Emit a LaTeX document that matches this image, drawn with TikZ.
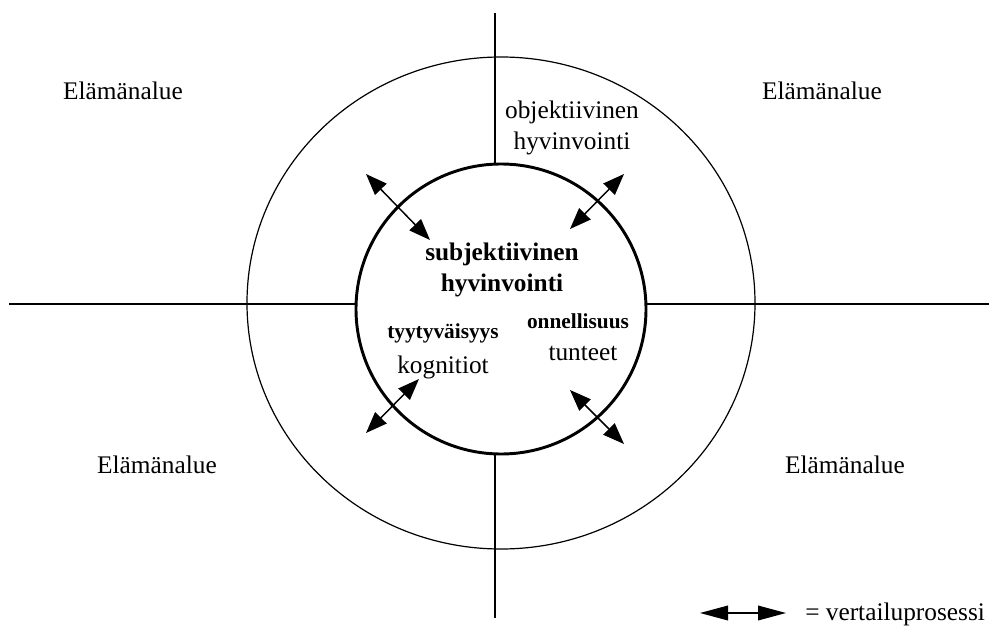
\documentclass[tikz,border=0pt]{standalone}
\usepackage{fontspec}
\setmainfont{Liberation Serif}
\usetikzlibrary{arrows.meta}

\begin{document}
\begin{tikzpicture}[x=0.75pt,y=0.75pt,yscale=-1,xscale=1,
  txt/.style={font=\fontsize{19}{23}\selectfont, align=center, inner sep=0pt},
  btxt/.style={font=\fontsize{19}{23}\selectfont\bfseries, align=center, inner sep=0pt},
  sbtxt/.style={font=\fontsize{16}{19}\selectfont\bfseries, align=center, inner sep=0pt},
  cmp/.style={{Triangle[length=16pt,width=12pt]}-{Triangle[length=16pt,width=12pt]}, line width=1.1pt},
  legcmp/.style={{Triangle[length=21pt,width=11pt]}-{Triangle[length=21pt,width=11pt]}, line width=1.1pt}]
\useasboundingbox (0,0) rectangle (989,631);

%Straight Lines (axes)
\draw [line width=0.9pt]  (495,13) -- (495,618) ;
\draw [line width=0.9pt]  (9,304) -- (989,304) ;
%Shape: Ellipse (outer)
\draw [line width=0.9pt, fill=none]  (501,303) ellipse [x radius=254, y radius=246] ;
%Shape: Circle (inner)
\draw [line width=2.2pt, fill=white]  (501,309) circle [radius=145] ;

%Arrow ends
\coordinate (nwA) at (366,174) ;
\coordinate (nwB) at (430,240) ;
\coordinate (neA) at (624,174) ;
\coordinate (neB) at (570,229) ;
\coordinate (swA) at (419,379) ;
\coordinate (swB) at (366,433) ;
\coordinate (seA) at (570,390) ;
\coordinate (seB) at (624,444) ;
\coordinate (legA) at (700,613) ;
\coordinate (legB) at (786,613) ;

%Arrows
\draw [cmp]  (nwA) -- (nwB) ;
\draw [cmp]  (neA) -- (neB) ;
\draw [cmp]  (swA) -- (swB) ;
\draw [cmp]  (seA) -- (seB) ;
\draw [legcmp]  (legA) -- (legB) ;

% Text Node
\node [txt] (elTL) at (123,91) {Elämänalue};
% Text Node
\node [txt] (elTR) at (822,91) {Elämänalue};
% Text Node
\node [txt] (elBL) at (157,465) {Elämänalue};
% Text Node
\node [txt] (elBR) at (845,465) {Elämänalue};
% Text Node
\node [txt] (objhv) at (572,128) {objektiivinen\\hyvinvointi};
% Text Node
\node [btxt] (subjhv) at (502,270) {subjektiivinen\\hyvinvointi};
% Text Node
\node [sbtxt] (tyyt) at (443,333) {tyytyväisyys};
% Text Node
\node [txt] (kogn) at (443,367) {kognitiot};
% Text Node
\node [sbtxt] (onn) at (578,321) {onnellisuus};
% Text Node
\node [txt] (tunt) at (583,353) {tunteet};
% Text Node
\node [txt, anchor=west] (vert) at (805,614) {= vertailuprosessi};

\end{tikzpicture}
\end{document}
